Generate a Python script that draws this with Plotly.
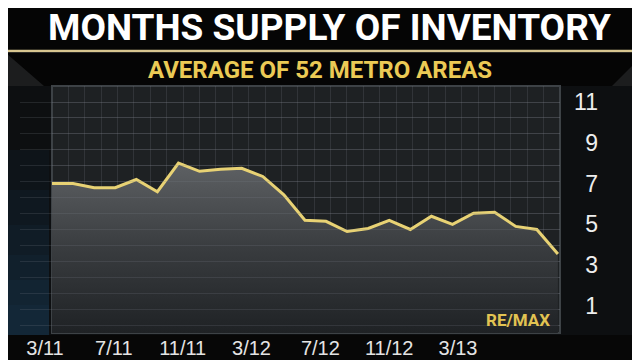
import plotly.graph_objects as go

# ---------------- data ----------------
months = ["3/11", "4/11", "5/11", "6/11", "7/11", "8/11", "9/11", "10/11", "11/11",
          "12/11", "1/12", "2/12", "3/12", "4/12", "5/12", "6/12", "7/12", "8/12",
          "9/12", "10/12", "11/12", "12/12", "1/13", "2/13", "3/13"]
supply = [7.0, 7.0, 6.8, 6.8, 7.2, 6.6, 8.0, 7.6, 7.7, 7.75, 7.35, 6.45, 5.2,
          5.15, 4.65, 4.8, 5.2, 4.75, 5.4, 5.0, 5.55, 5.6, 4.9, 4.75, 3.55]
x_tick_labels = ["3/11", "7/11", "11/11", "3/12", "7/12", "11/12", "3/13"]
x_tick_months = [0, 4, 8, 12, 16, 20, 24]
y_tick_values = [1, 3, 5, 7, 9, 11]

title = "MONTHS SUPPLY OF INVENTORY"
subtitle = "AVERAGE OF 52 METRO AREAS"
source = "RE/MAX"

# ---------------- helpers (window pixel -> paper) ----------------
W, H = 640, 360
OFF = 8  # page offset of the figure inside the window
def px(x): return (x - OFF) / W
def py(y): return 1 - (y - OFF) / H

idx = list(range(len(months)))
YMIN, YMAX = -0.32, 11.78
XMAX = 24.1

BOLD = "Roboto, Liberation Sans, Arial, sans-serif"
PLAIN = "Liberation Sans, Arial, Helvetica, sans-serif"

fig = go.Figure()
# baseline for fill (bottom of panel)
fig.add_trace(go.Scatter(x=idx, y=[YMIN] * len(idx), mode="lines",
                         line=dict(width=0), hoverinfo="skip", showlegend=False))
fig.add_trace(go.Scatter(
    x=idx, y=supply, mode="lines", fill="tonexty",
    line=dict(color="#e8d274", width=3),
    fillgradient=dict(type="vertical", start=YMIN, stop=8.0,
                      colorscale=[[0, "#1f2225"], [0.5, "#393c3f"], [1, "#5e6164"]]),
    showlegend=False, hoverinfo="skip"))
# invisible traces for the label axes
fig.add_trace(go.Scatter(x=x_tick_months, y=[None] * len(x_tick_months),
                         xaxis="x2", yaxis="y", mode="markers",
                         hoverinfo="skip", showlegend=False))
fig.add_trace(go.Scatter(x=[None] * len(y_tick_values), y=y_tick_values,
                         xaxis="x", yaxis="y2", mode="markers",
                         hoverinfo="skip", showlegend=False))

GRID = "rgba(125,132,140,0.20)"

fig.update_layout(
    width=W, height=H, margin=dict(l=0, r=0, t=0, b=0),
    paper_bgcolor="#0d0f11", plot_bgcolor="rgba(0,0,0,0)",
    showlegend=False,
    xaxis=dict(domain=[px(52), px(560)], range=[0, XMAX],
               showticklabels=False, ticks="", showgrid=True, gridcolor=GRID,
               gridwidth=1, tick0=0, dtick=XMAX / 31, zeroline=False,
               showline=False),
    xaxis2=dict(domain=[px(20), px(560)], anchor="y", side="bottom",
                range=[(20 - 45) / 17.21, (560 - 45) / 17.21],
                tickmode="array", tickvals=x_tick_months, ticktext=x_tick_labels,
                showgrid=False, zeroline=False, ticks="", showline=False,
                ticklabelstandoff=1,
                tickfont=dict(family=PLAIN, size=20, color="#e4e4e4")),
    yaxis=dict(domain=[py(333), py(86)], range=[YMIN, YMAX], side="right",
               showticklabels=False, showgrid=False, zeroline=False, ticks="",
               showline=False, tick0=1, dtick=2,
               minor=dict(showgrid=True, tick0=YMAX, dtick=(YMAX - YMIN) / 15.44,
                          gridcolor=GRID, gridwidth=1)),
    yaxis2=dict(overlaying="y", anchor="free", position=px(598), side="left",
                range=[YMIN, YMAX], tickmode="array", tickvals=y_tick_values,
                showgrid=False, zeroline=False, ticks="", showline=False,
                ticklabelstandoff=0,
                tickfont=dict(family=PLAIN, size=23, color="#eeeeee")),
)

shapes = []
# left bluish glow (stacked translucent bands for a soft gradient)
for top, a in [(150, 0.10), (190, 0.10), (225, 0.10), (255, 0.10), (280, 0.12), (305, 0.12)]:
    shapes.append(dict(type="rect", xref="paper", yref="paper", x0=px(0), x1=px(49),
                       y0=py(335), y1=py(top), fillcolor=f"rgba(30,65,100,{a})",
                       line=dict(width=0), layer="below"))
shapes += [
    # title band
    dict(type="rect", xref="paper", yref="paper", x0=px(0), x1=px(640), y0=py(50), y1=py(0),
         fillcolor="#050505", line=dict(width=0), layer="below"),
    dict(type="line", xref="paper", yref="paper", x0=px(0), x1=px(640), y0=py(1.5), y1=py(1.5),
         line=dict(color="#8c7443", width=2), layer="below"),
    dict(type="line", xref="paper", yref="paper", x0=px(0), x1=px(640), y0=py(51), y1=py(51),
         line=dict(color="#d8c690", width=2.5), layer="below"),
    # subtitle band surround
    dict(type="rect", xref="paper", yref="paper", x0=px(0), x1=px(640), y0=py(86), y1=py(52.5),
         fillcolor="#1c1d1e", line=dict(width=0), layer="below"),
    dict(type="path", xref="paper", yref="paper",
         path=f"M {px(6)},{py(53)} L {px(640)},{py(53)} L {px(640)},{py(58)} "
              f"L {px(612)},{py(86)} L {px(44)},{py(86)} Z",
         fillcolor="#050505", line=dict(width=0), layer="below"),
    # bottom label band
    dict(type="rect", xref="paper", yref="paper", x0=px(0), x1=px(640), y0=py(360), y1=py(335),
         fillcolor="#070707", line=dict(width=0), layer="below"),
    # chart panel
    dict(type="rect", xref="x domain", yref="y domain", x0=0, x1=1, y0=0, y1=1,
         fillcolor="#1e2123", line=dict(color="#3d4246", width=2), layer="below"),
]
fig.update_layout(shapes=shapes)

fig.update_layout(annotations=[
    dict(text=f"<b>{title}</b>", xref="paper", yref="paper", x=px(329), y=py(27),
         showarrow=False, xanchor="center", yanchor="middle",
         font=dict(family=BOLD, size=37, color="#ffffff")),
    dict(text=f"<b>{subtitle}</b>", xref="paper", yref="paper", x=px(320), y=py(70),
         showarrow=False, xanchor="center", yanchor="middle",
         font=dict(family=BOLD, size=24, color="#ebca55")),
    dict(text=f"<b>{source}</b>", xref="x domain", yref="paper", x=0.985, y=py(320),
         showarrow=False, xanchor="right", yanchor="middle",
         font=dict(family=BOLD, size=17, color="#e2c352")),
])

fig.write_html("out.html")
